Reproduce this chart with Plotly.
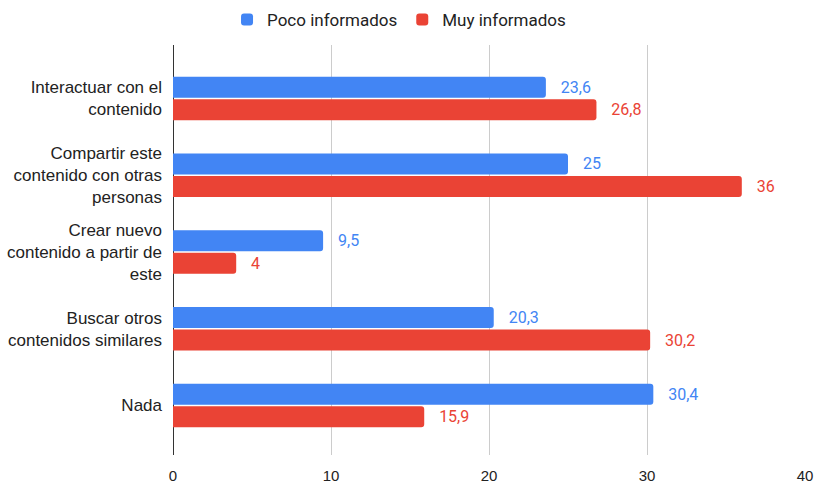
import plotly.graph_objects as go

categories = [
    "Interactuar con el<br>contenido",
    "Compartir este<br>contenido con otras<br>personas",
    "Crear nuevo<br>contenido a partir de<br>este",
    "Buscar otros<br>contenidos similares",
    "Nada",
]
poco = [23.6, 25, 9.5, 20.3, 30.4]
muy = [26.8, 36, 4, 30.2, 15.9]
x_ticks = [0, 10, 20, 30, 40]

BLUE = "#4285F4"
RED = "#EA4335"
ROBOTO = "Roboto, sans-serif"
ARIAL = "Liberation Sans, Arial, sans-serif"
pad = "\u00a0\u00a0\u00a0"

fig = go.Figure()
fig.add_trace(go.Bar(
    y=categories, x=poco, orientation="h", name="Poco informados",
    marker=dict(color=BLUE, line=dict(width=0)),
    texttemplate=pad + "%{x}", textposition="outside",
    textfont=dict(color=BLUE, size=16, family=ROBOTO), cliponaxis=False,
))
fig.add_trace(go.Bar(
    y=categories, x=muy, orientation="h", name="Muy informados",
    marker=dict(color=RED, line=dict(width=0)),
    texttemplate=pad + "%{x}", textposition="outside",
    textfont=dict(color=RED, size=16, family=ROBOTO), cliponaxis=False,
))

fig.update_layout(
    width=816, height=483,
    margin=dict(l=173, r=11, t=45, b=28, autoexpand=False),
    paper_bgcolor="white", plot_bgcolor="white",
    barmode="group", bargap=0.41, bargroupgap=0.07, barcornerradius=3,
    separators=",.",
    font=dict(family=ARIAL, size=17, color="#222222"),
    legend=dict(orientation="h", x=0.489, xanchor="center", xref="container",
                y=0.996, yanchor="top", yref="container",
                font=dict(size=17, color="#222222", family=ROBOTO),
                traceorder="normal"),
    showlegend=True,
)
fig.update_xaxes(
    range=[0, 40], tickvals=x_ticks, showgrid=True, gridcolor="#cccccc",
    gridwidth=1, zeroline=True, zerolinecolor="#333333", zerolinewidth=1,
    showline=False, automargin=False, ticks="", ticklabelstandoff=10,
    tickfont=dict(size=15, color="#222222", family=ARIAL),
)
fig.update_yaxes(
    autorange=False, range=[4.645, -0.697], showgrid=False, showline=False,
    ticks="", ticklabelstandoff=10, automargin=False,
    tickfont=dict(size=17, color="#222222", family=ARIAL),
)

fig.write_html(
    "out.html",
    config={"displayModeBar": False},
    post_script="document.body.style.margin='0';document.body.style.overflow='hidden';",
)
